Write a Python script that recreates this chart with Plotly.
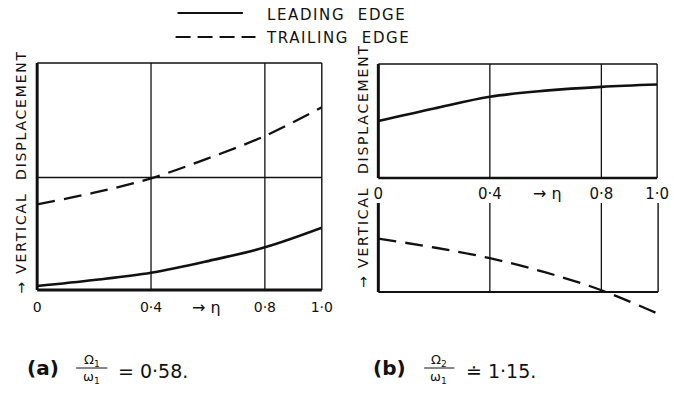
import plotly.graph_objects as go

# Canvas size in pixels
W, H = 674, 394

# Span-wise station (eta) and vertical displacement of the two edges
eta = [0.0, 0.2, 0.4, 0.6, 0.8, 1.0]

# (a) Omega1 / omega1 = 0.58
lead_a = [0.035, 0.088, 0.152, 0.255, 0.376, 0.549]
trail_a = [0.755, 0.857, 0.984, 1.16, 1.357, 1.61]

# (b) Omega2 / omega1 = 1.15
lead_b = [0.50, 0.61, 0.713, 0.766, 0.80, 0.82]
trail_b = [-0.40, -0.50, -0.62, -0.78, -0.98, -1.24]

tick_vals = [0, 0.4, 0.8, 1.0]
tick_text = ["0", "0·4", "0·8", "1·0"]
grid_eta = [0.4, 0.8]

FONT = "DejaVu Sans"
INK = "#111111"

# Panel geometry (pixels)
LX0, LX1, LY0, LY1 = 33, 325, 63, 290          # panel (a)
RX0, RX1 = 383, 669                           # panel (b)
RUY0, RUY1 = 64, 178                          # (b) upper half, zero line at RUY1
RLY0, RLY1 = 203, 292                         # (b) lower half, 0 .. -1
RL_MIN = -1.3                                 # lower axis extends below the frame
RL_BOTTOM = RLY0 + (RLY1 - RLY0) * (-RL_MIN)


def fx(p):
    return p / W


def fy(p):
    return 1 - p / H


def ex(e, x0, x1):
    """pixel x of a span station inside a panel"""
    return x0 + e * (x1 - x0)


fig = go.Figure()

fig.add_trace(go.Scatter(x=eta, y=lead_a, mode="lines", line=dict(color=INK, width=2.7, shape="spline"),
                         xaxis="x", yaxis="y", showlegend=False))
fig.add_trace(go.Scatter(x=eta, y=trail_a, mode="lines",
                         line=dict(color=INK, width=2.3, dash="18px,9px", shape="spline"),
                         xaxis="x", yaxis="y", showlegend=False))
fig.add_trace(go.Scatter(x=eta, y=lead_b, mode="lines", line=dict(color=INK, width=2.7, shape="spline"),
                         xaxis="x2", yaxis="y2", showlegend=False))
fig.add_trace(go.Scatter(x=eta, y=trail_b, mode="lines",
                         line=dict(color=INK, width=2.3, dash="18px,9px", shape="spline"),
                         xaxis="x3", yaxis="y3", showlegend=False))

shapes = []


def seg(x0, y0, x1, y1, w=1.4, dash=None):
    ln = dict(color=INK, width=w)
    if dash:
        ln["dash"] = dash
    shapes.append(dict(type="line", xref="paper", yref="paper",
                       x0=fx(x0), y0=fy(y0), x1=fx(x1), y1=fy(y1), line=ln))


# Panel (a) frame and grid
seg(LX0, LY0, LX0, LY1, 3)
seg(LX0, LY1, LX1, LY1, 3)
seg(LX0, LY0, LX1, LY0, 1.6)
seg(LX1, LY0, LX1, LY1, 1.4)
for g in grid_eta:
    seg(ex(g, LX0, LX1), LY0, ex(g, LX0, LX1), LY1, 1.3)
seg(LX0, (LY0 + LY1) / 2 + 1, LX1, (LY0 + LY1) / 2 + 1, 1.3)

# Panel (b) upper half
seg(RX0, RUY0, RX0, RUY1, 3)
seg(RX0, RUY0, RX1, RUY0, 1.6)
seg(RX1, RUY0, RX1, RUY1, 1.4)
seg(RX0, RUY1, RX1, RUY1, 2.4)
for g in grid_eta:
    seg(ex(g, RX0, RX1), RUY0, ex(g, RX0, RX1), RUY1, 1.3)

# Panel (b) lower half
seg(RX0, RLY0, RX0, RLY1, 3)
seg(RX0, RLY1, RX1 + 1, RLY1, 2)
seg(RX1 + 1, RLY0, RX1 + 1, RLY1, 1.4)
for g in grid_eta:
    seg(ex(g, RX0, RX1), RLY0, ex(g, RX0, RX1), RLY1, 1.3)

# Legend samples
seg(177, 13, 244, 13, 1.8)
seg(175, 37, 257, 37, 2.2, dash="15px,7px")

# Fraction bars in the captions
seg(73, 368, 105, 368, 1.0)
seg(430, 368, 461, 368, 1.0)

annotations = []


def text(x, y, s, size=14, xanchor="center", yanchor="middle", angle=0, bold=False):
    if bold:
        s = "<b>" + s + "</b>"
    annotations.append(dict(x=fx(x), y=fy(y), xref="paper", yref="paper", text=s, showarrow=False,
                            xanchor=xanchor, yanchor=yanchor, textangle=angle,
                            font=dict(family=FONT, size=size, color=INK)))


SP = '<span style="letter-spacing:1.6px">{}</span>'

text(267, 15, SP.format("LEADING  EDGE"), 15, xanchor="left")
text(266, 38, SP.format("TRAILING  EDGE"), 15, xanchor="left")

ylabel = '<span style="letter-spacing:1.8px">→ VERTICAL  DISPLACEMENT</span>'
text(16, 172, ylabel, 14, angle=-90)
text(367, 166, ylabel, 14, angle=-90)

text(207, 307, "→ η", 16)
text(557, 193, "→ η", 16)

# Captions
text(39, 368, "(a)", 20, bold=True)
text(89, 360, "Ω<sub>1</sub>", 13)
text(89, 377, "ω<sub>1</sub>", 13)
text(114, 371, "= 0·58.", 19, xanchor="left")

text(394, 368, "(b)", 20, bold=True)
text(445, 360, "Ω<sub>2</sub>", 13)
text(445, 377, "ω<sub>1</sub>", 13)
text(471, 371, "≐ 1·15.", 19, xanchor="left")

hidden = dict(showgrid=False, zeroline=False, showline=False, ticks="", fixedrange=True)

fig.update_layout(
    width=W, height=H,
    margin=dict(l=0, r=0, t=0, b=0),
    paper_bgcolor="white", plot_bgcolor="rgba(0,0,0,0)",
    showlegend=False,
    xaxis=dict(domain=[fx(LX0), fx(LX1)], range=[0, 1], anchor="y",
               tickvals=tick_vals, ticktext=tick_text, ticklabelstandoff=7,
               tickfont=dict(family=FONT, size=14, color=INK), **hidden),
    yaxis=dict(domain=[fy(LY1), fy(LY0)], range=[0, 2], anchor="x", showticklabels=False, **hidden),
    xaxis2=dict(domain=[fx(RX0), fx(RX1)], range=[0, 1], anchor="y2",
                tickvals=tick_vals, ticktext=tick_text, ticklabelstandoff=5,
                ticklabeloverflow="allow",
                tickfont=dict(family=FONT, size=15, color=INK), **hidden),
    yaxis2=dict(domain=[fy(RUY1), fy(RUY0)], range=[0, 1], anchor="x2", showticklabels=False, **hidden),
    xaxis3=dict(domain=[fx(RX0), fx(RX1)], range=[0, 1], anchor="y3", showticklabels=False, **hidden),
    yaxis3=dict(domain=[fy(RL_BOTTOM), fy(RLY0)], range=[RL_MIN, 0], anchor="x3",
                showticklabels=False, **hidden),
    shapes=shapes,
    annotations=annotations,
)

fig.write_html("out.html")
